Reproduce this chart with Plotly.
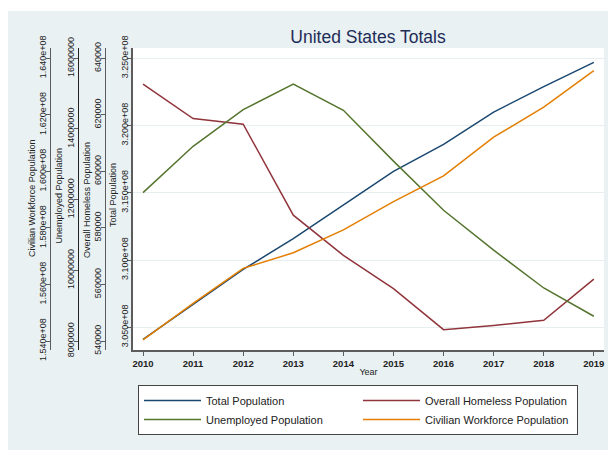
import plotly.graph_objects as go

# Yearly totals for the United States
years = [2010, 2011, 2012, 2013, 2014, 2015, 2016, 2017, 2018, 2019]
total_population = [304.1e6, 306.7e6, 309.3e6, 311.6e6, 314.1e6,
                    316.6e6, 318.6e6, 321.0e6, 322.9e6, 324.7e6]
homeless_population = [630900, 618700, 616700, 584500, 570300,
                       558500, 544000, 545500, 547300, 561900]
unemployed_population = [12.20e6, 13.51e6, 14.55e6, 15.27e6, 14.53e6,
                         13.09e6, 11.70e6, 10.57e6, 9.50e6, 8.70e6]
civilian_workforce = [154.04e6, 155.33e6, 156.57e6, 157.12e6, 157.93e6,
                      158.93e6, 159.84e6, 161.21e6, 162.27e6, 163.56e6]

# Axis tick values
total_ticks = [3.05e8, 3.10e8, 3.15e8, 3.20e8, 3.25e8]
homeless_ticks = [540000, 560000, 580000, 600000, 620000, 640000]
unemployed_ticks = [8000000, 10000000, 12000000, 14000000, 16000000]
civilian_ticks = [1.54e8, 1.56e8, 1.58e8, 1.60e8, 1.62e8, 1.64e8]

FONT = "Arial, Liberation Sans, sans-serif"
BG = "#E9F1F3"
AXIS_GRAY = "#5c5c5c"
TXT = "#222222"

W, H = 608, 450
ML, MR, MT, MB = 8, 4, 48, 100
PW = W - ML - MR
PH = H - MT - MB


def px_x(px):
    return (px - ML) / PW


def px_y(py):
    return (H - MB - py) / PH


def sci(v):
    return f"{v:.3e}"


fig = go.Figure()
fig.add_trace(go.Scatter(x=years, y=total_population, name="Total Population",
                         mode="lines", line=dict(color="#1A476F", width=1.5),
                         yaxis="y"))
fig.add_trace(go.Scatter(x=years, y=homeless_population, name="Overall Homeless Population",
                         mode="lines", line=dict(color="#90353B", width=1.5),
                         yaxis="y2"))
fig.add_trace(go.Scatter(x=years, y=unemployed_population, name="Unemployed Population",
                         mode="lines", line=dict(color="#55752F", width=1.5),
                         yaxis="y3"))
fig.add_trace(go.Scatter(x=years, y=civilian_workforce, name="Civilian Workforce Population",
                         mode="lines", line=dict(color="#E37E00", width=1.5),
                         yaxis="y4"))

common_y = dict(
    showline=True, linecolor=AXIS_GRAY, linewidth=1,
    ticks="outside", ticklen=4, tickcolor=AXIS_GRAY, tickwidth=1,
    tickangle=-90, tickfont=dict(family=FONT, size=9, color=TXT),
    ticklabelstandoff=-4,
    zeroline=False, showgrid=False, automargin=False,
)

# Axis titles, one per left-hand axis: (text, x pixel, y pixel of centre)
axis_titles = [
    ("Total Population", 113, 195),
    ("Overall Homeless Population", 87, 200),
    ("Unemployed Population", 58.5, 196),
    ("Civilian Workforce Population", 32, 199),
]
annotations = [
    dict(text=t, textangle=-90, xref="paper", yref="paper",
         x=px_x(x), y=px_y(y), xanchor="center", yanchor="middle",
         showarrow=False, font=dict(family=FONT, size=9, color=TXT))
    for t, x, y in axis_titles
]

fig.update_layout(
    width=W, height=H,
    margin=dict(l=ML, r=MR, t=MT, b=MB, autoexpand=False),
    paper_bgcolor=BG, plot_bgcolor="white",
    showlegend=True,
    title=dict(text="United States Totals", xref="container", x=368 / W,
               xanchor="center", yref="container", y=1 - 37 / H, yanchor="middle",
               font=dict(family=FONT, size=17.5, color="#1E2C58")),
    xaxis=dict(
        domain=[px_x(133), 1], range=[2009.80, 2019.203],
        tickvals=years, ticktext=[f"<b>{y}</b>" for y in years],
        ticks="outside", ticklen=4, tickcolor=AXIS_GRAY,
        showline=True, linecolor=AXIS_GRAY, linewidth=1.5,
        showgrid=False, zeroline=False, automargin=False,
        tickfont=dict(family=FONT, size=9.5, color=TXT),
        title=dict(text="Year", standoff=1, font=dict(family=FONT, size=9, color=TXT)),
    ),
    yaxis=dict(
        **{**common_y, "showgrid": True, "linewidth": 1.5},
        gridcolor="#E6EEF0", gridwidth=1,
        range=[303.313e6, 325.766e6],
        tickvals=total_ticks, ticktext=[sci(v) for v in total_ticks],
        anchor="x", side="left",
    ),
    yaxis2=dict(
        **common_y,
        range=[536817, 643643],
        tickvals=homeless_ticks, ticktext=[str(v) for v in homeless_ticks],
        overlaying="y", anchor="free", position=px_x(105), side="left",
    ),
    yaxis3=dict(
        **{**common_y, "linecolor": "#222222"},
        range=[7.7453e6, 16.2915e6],
        tickvals=unemployed_ticks, ticktext=[str(v) for v in unemployed_ticks],
        overlaying="y", anchor="free", position=px_x(77.5), side="left",
    ),
    yaxis4=dict(
        **common_y,
        range=[153.682e6, 164.364e6],
        tickvals=civilian_ticks, ticktext=[sci(v) for v in civilian_ticks],
        overlaying="y", anchor="free", position=px_x(50), side="left",
    ),
    legend=dict(
        orientation="h", x=px_x(138), xanchor="left",
        y=px_y(385), yanchor="top",
        bgcolor="white", bordercolor="#444444", borderwidth=1,
        font=dict(family=FONT, size=11, color=TXT),
        entrywidth=147, itemwidth=57, traceorder="normal",
    ),
    annotations=annotations,
    shapes=[
        # white strips along the top and left edges of the canvas
        dict(type="rect", xref="paper", yref="paper",
             x0=px_x(0), x1=px_x(W), y0=px_y(11), y1=px_y(0),
             fillcolor="white", line=dict(width=0), layer="below"),
        dict(type="rect", xref="paper", yref="paper",
             x0=px_x(0), x1=px_x(8), y0=px_y(H), y1=px_y(0),
             fillcolor="white", line=dict(width=0), layer="below"),
    ],
)

fig.write_html("out.html")
